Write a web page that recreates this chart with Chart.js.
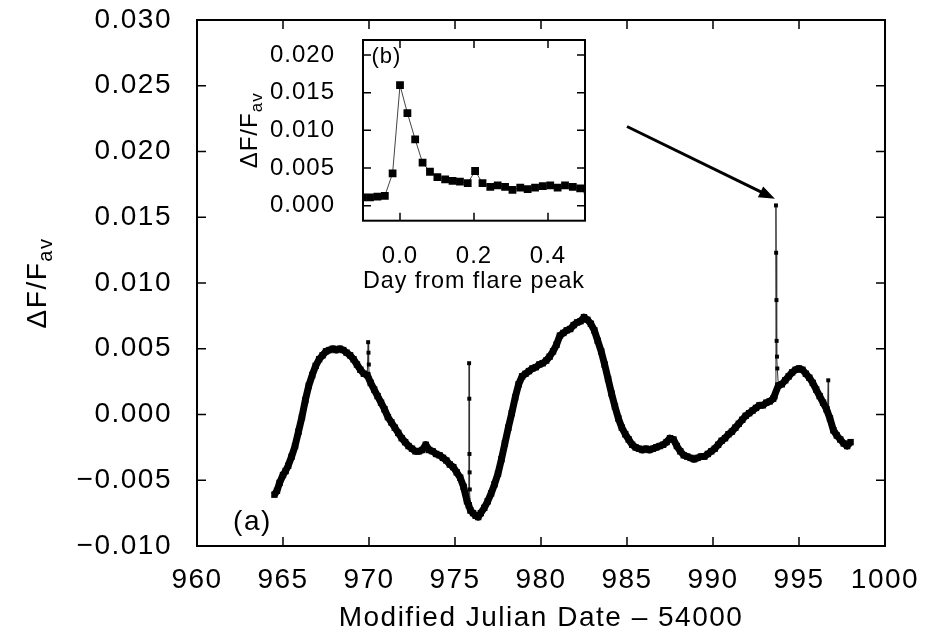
<!DOCTYPE html>
<html lang="en">
<head>
<meta charset="UTF-8">
<title>Light curve with flare</title>
<script src="https://cdn.jsdelivr.net/npm/chart.js@4.4.1/dist/chart.umd.min.js"></script>
<style>
  html, body { margin: 0; padding: 0; background: #fff; }
  #wrap { position: relative; width: 925px; height: 640px; }
  #main { position: absolute; left: 0; top: 0; }
  #inset { position: absolute; left: 230px; top: 30px; }
</style>
</head>
<body>
<div id="wrap">
  <canvas id="main" width="925" height="640"></canvas>
  <canvas id="inset" width="370" height="275"></canvas>
</div>
<script>
// panel (a): MJD - 54000 and dF/F_av, flux in units of 0.001
const mjd = [
  964.5, 964.65, 964.8, 965.0, 965.15, 965.3, 965.5, 965.7, 965.9, 966.1,
  966.3, 966.5, 966.7, 966.9, 967.1, 967.3, 967.5, 967.7, 967.9, 968.1,
  968.3, 968.5, 968.7, 968.9, 969.1, 969.3, 969.5, 969.7, 969.9, 970.1,
  970.3, 970.5, 970.7, 970.9, 971.1, 971.3, 971.5, 971.7, 971.9, 972.1,
  972.3, 972.5, 972.7, 972.9, 973.1, 973.3, 973.5, 973.7, 973.9, 974.1,
  974.3, 974.5, 974.7, 974.9, 975.1, 975.3, 975.5, 975.7, 975.8, 975.9,
  976.05, 976.2, 976.35, 976.5, 976.7, 976.9, 977.1, 977.3, 977.5, 977.7,
  977.9, 978.1, 978.3, 978.5, 978.7, 978.9, 979.1, 979.3, 979.5, 979.7,
  979.9, 980.1, 980.3, 980.5, 980.7, 980.9, 981.1, 981.3, 981.5, 981.7,
  981.9, 982.1, 982.3, 982.5, 982.7, 982.9, 983.1, 983.3, 983.5, 983.7,
  983.9, 984.1, 984.3, 984.5, 984.7, 984.9, 985.1, 985.3, 985.5, 985.7,
  985.9, 986.1, 986.3, 986.5, 986.7, 986.9, 987.1, 987.3, 987.5, 987.7,
  987.9, 988.1, 988.3, 988.5, 988.7, 988.9, 989.1, 989.3, 989.5, 989.7,
  989.9, 990.1, 990.3, 990.5, 990.7, 990.9, 991.1, 991.3, 991.5, 991.7,
  991.9, 992.1, 992.3, 992.5, 992.7, 992.9, 993.1, 993.3, 993.5, 993.8,
  994.0, 994.2, 994.4, 994.6, 994.8, 995.0, 995.2, 995.4, 995.6, 995.8,
  996.0, 996.2, 996.4, 996.6, 996.8, 997.0, 997.2, 997.4, 997.6, 997.8,
  998.0
];
const flux = [
  -6.1, -5.8, -5.2, -4.6, -4.3, -3.9, -3.2, -2.4, -1.3, -0.2,
  1.1, 2.2, 3.0, 3.7, 4.2, 4.5, 4.8, 4.9, 5.0, 4.9,
  5.0, 4.9, 4.7, 4.5, 4.2, 3.8, 3.4, 3.1, 3.0, 2.4,
  1.9, 1.4, 0.9, 0.4, -0.2, -0.6, -1.0, -1.4, -1.8, -2.1,
  -2.4, -2.6, -2.8, -2.8, -2.7, -2.3, -2.7, -2.8, -3.0, -3.1,
  -3.3, -3.5, -3.8, -4.0, -4.4, -4.8, -5.5, -6.6, -6.9, -7.3,
  -7.5, -7.7, -7.8, -7.5, -7.1, -6.6, -6.0, -5.3, -4.5, -3.4,
  -2.2, -1.0, 0.1, 1.3, 2.3, 2.9, 3.1, 3.3, 3.5, 3.6,
  3.8, 3.9, 4.1, 4.4, 4.8, 5.3, 6.0, 6.2, 6.4, 6.5,
  6.8, 7.0, 7.1, 7.4, 7.2, 6.9, 6.4, 5.6, 4.8, 3.8,
  2.7, 1.6, 0.6, -0.3, -1.0, -1.5, -1.9, -2.3, -2.5, -2.6,
  -2.7, -2.6, -2.7, -2.6, -2.5, -2.4, -2.3, -2.1, -1.8, -1.9,
  -2.4, -2.8, -3.1, -3.2, -3.3, -3.4, -3.3, -3.2, -3.2, -3.0,
  -2.8, -2.6, -2.3, -2.0, -1.8, -1.5, -1.3, -1.0, -0.7, -0.4,
  -0.1, 0.1, 0.3, 0.5, 0.7, 0.7, 0.9, 1.0, 1.2, 2.2,
  2.3, 2.6, 2.9, 3.2, 3.4, 3.5, 3.4, 3.1, 2.8, 2.4,
  1.9, 1.4, 0.9, 0.4, -0.3, -1.2, -1.6, -1.9, -2.2, -2.4,
  -2.1
];

// short excursions (thin line), null splits them
const spikeMjd = [
  969.9, 969.95, 969.97, 969.99, 970.02, 970.02,
  975.8, 975.82, 975.83, 975.84, 975.85, 975.86, 975.9, 975.9,
  993.5, 993.64, 993.66, 993.67, 993.69, 993.7, 993.72, 993.74, 993.8, 993.8,
  996.66, 996.7, 996.72
];
const spikeFlux = [
  3.0, 5.5, 4.7, 3.8, 2.8, null,
  -6.9, 3.9, 1.2, -3.0, -4.4, -5.7, -7.3, null,
  1.2, 1.3, 15.9, 12.3, 8.7, 5.6, 4.4, 3.5, 2.2, null,
  0.3, 2.6, 0.2
];

// panel (b): days from flare peak, flux in units of 0.001
const flareDay = [
  -0.101, -0.081, -0.061, -0.041, -0.020, 0.0, 0.020, 0.041, 0.061, 0.081,
  0.101, 0.122, 0.142, 0.162, 0.183, 0.203, 0.223, 0.244, 0.264, 0.284,
  0.304, 0.325, 0.345, 0.365, 0.386, 0.406, 0.426, 0.446, 0.467, 0.487,
  0.507
];
const flareFlux = [
  1.1, 1.1, 1.2, 1.3, 4.3, 16.0, 12.3, 8.8, 5.7, 4.5,
  3.8, 3.5, 3.3, 3.2, 3.0, 4.6, 3.0, 2.5, 2.7, 2.5,
  2.1, 2.4, 2.2, 2.4, 2.6, 2.7, 2.4, 2.7, 2.5, 2.3,
  2.1
];

const mainXTicks = [960, 965, 970, 975, 980, 985, 990, 995, 1000];
const mainYTicks = [-0.010, -0.005, 0.000, 0.005, 0.010, 0.015, 0.020, 0.025, 0.030];
const insetXTicks = [0.0, 0.2, 0.4];
const insetYTicks = [0.000, 0.005, 0.010, 0.015, 0.020];

const FONT = "'Liberation Sans', Arial, sans-serif";

const fmt = d => v => (Math.abs(v) < 1e-9 ? 0 : v).toFixed(d).replace('-', '\u2212');
const pts = (xs, ys) => xs.map((x, i) => ({ x, y: ys[i] === null ? null : ys[i] / 1000 }));

// frame, inward mirror ticks, y title with subscript, panel tag, arrow
const framePlugin = {
  id: 'frame',
  beforeUpdate(chart, args, o) {
    // the reference lettering is set a bit wide
    chart.ctx.letterSpacing = o.spacing || '0px';
  },
  afterDraw(chart, args, o) {
    const { ctx, chartArea: a, scales: { x, y } } = chart;
    ctx.save();
    ctx.strokeStyle = '#000';
    ctx.lineWidth = o.tickWidth;
    ctx.beginPath();
    x.ticks.forEach(t => {
      const px = x.getPixelForValue(t.value);
      ctx.moveTo(px, a.bottom); ctx.lineTo(px, a.bottom - o.tick);
      ctx.moveTo(px, a.top); ctx.lineTo(px, a.top + o.tick);
    });
    y.ticks.forEach(t => {
      const py = y.getPixelForValue(t.value);
      ctx.moveTo(a.left, py); ctx.lineTo(a.left + o.tick, py);
      ctx.moveTo(a.right, py); ctx.lineTo(a.right - o.tick, py);
    });
    ctx.stroke();
    ctx.lineWidth = o.frameWidth;
    ctx.strokeRect(a.left, a.top, a.width, a.height);

    // y title: ΔF/F with subscript "av"
    ctx.fillStyle = '#000';
    ctx.textBaseline = 'middle';
    ctx.textAlign = 'left';
    const big = `${o.titleSize}px ${FONT}`;
    const small = `${Math.round(o.titleSize * 0.72)}px ${FONT}`;
    ctx.font = big;
    const w1 = ctx.measureText('\u0394F/F').width;
    ctx.font = small;
    const w2 = ctx.measureText('av').width;
    ctx.translate(o.titleX, (a.top + a.bottom) / 2);
    ctx.rotate(-Math.PI / 2);
    ctx.font = big;
    ctx.fillText('\u0394F/F', -(w1 + w2) / 2, 0);
    ctx.font = small;
    ctx.fillText('av', -(w1 + w2) / 2 + w1, o.titleSize * 0.3);
    ctx.setTransform(1, 0, 0, 1, 0, 0);

    // panel tag
    ctx.font = `${o.tagSize}px ${FONT}`;
    ctx.fillText(o.tag.text, x.getPixelForValue(o.tag.x), y.getPixelForValue(o.tag.y));

    // arrow pointing at the flare
    if (o.arrow) {
      const x0 = x.getPixelForValue(o.arrow.from[0]), y0 = y.getPixelForValue(o.arrow.from[1]);
      const x1 = x.getPixelForValue(o.arrow.to[0]), y1 = y.getPixelForValue(o.arrow.to[1]);
      const ang = Math.atan2(y1 - y0, x1 - x0);
      const hl = 16, hw = 6;
      ctx.lineWidth = 3;
      ctx.beginPath();
      ctx.moveTo(x0, y0);
      ctx.lineTo(x1 - hl * 0.8 * Math.cos(ang), y1 - hl * 0.8 * Math.sin(ang));
      ctx.stroke();
      ctx.beginPath();
      ctx.moveTo(x1, y1);
      ctx.lineTo(x1 - hl * Math.cos(ang) + hw * Math.sin(ang), y1 - hl * Math.sin(ang) - hw * Math.cos(ang));
      ctx.lineTo(x1 - hl * Math.cos(ang) - hw * Math.sin(ang), y1 - hl * Math.sin(ang) + hw * Math.cos(ang));
      ctx.closePath();
      ctx.fill();
    }
    ctx.restore();
  }
};

function axis({ min, max, ticks, digits, size, pad, fit, title }) {
  const s = {
    type: 'linear', min, max,
    grid: { display: false },
    border: { display: false },
    afterBuildTicks: sc => { sc.ticks = ticks.map(v => ({ value: v })); },
    afterFit: sc => {
      // keep the plot box where layout.padding puts it
      sc.paddingTop = sc.paddingBottom = sc.paddingLeft = sc.paddingRight = 0;
      fit(sc);
    },
    ticks: { padding: pad, color: '#000', maxRotation: 0, font: { family: FONT, size }, callback: fmt(digits) }
  };
  if (title) s.title = { display: true, text: title.text, color: '#000', font: { family: FONT, size }, padding: { top: 0, bottom: title.pb } };
  return s;
}

Chart.register(framePlugin);

new Chart(document.getElementById('main'), {
  type: 'line',
  data: {
    datasets: [
      {
        data: pts(mjd, flux),
        borderColor: '#000', backgroundColor: '#000',
        borderWidth: 7, borderJoinStyle: 'round', tension: 0,
        pointStyle: 'rect', pointRadius: 4.5, pointBorderWidth: 0
      },
      {
        data: pts(spikeMjd, spikeFlux),
        borderColor: '#333', backgroundColor: '#000',
        borderWidth: 1, tension: 0, spanGaps: false,
        pointStyle: 'rect', pointRadius: 2.8, pointBorderWidth: 0
      }
    ]
  },
  options: {
    responsive: false, animation: false, devicePixelRatio: 1,
    layout: { padding: { top: 20, right: 40, left: 0, bottom: 0 } },
    plugins: {
      legend: { display: false }, tooltip: { enabled: false },
      frame: {
        spacing: '1.5px',
        tick: 9, tickWidth: 1.5, frameWidth: 2, titleX: 38, titleSize: 28, tagSize: 28,
        tag: { text: '(a)', x: 962.1, y: -0.0082 },
        arrow: { from: [985.0, 0.0219], to: [993.6, 0.0164] }
      }
    },
    scales: {
      x: axis({ min: 960, max: 1000, ticks: mainXTicks, digits: 0, size: 28, pad: 9,
        fit: s => { s.height = 94; }, title: { text: 'Modified Julian Date \u2013 54000', pb: 5 } }),
      y: axis({ min: -0.010, max: 0.030, ticks: mainYTicks, digits: 3, size: 28, pad: 17,
        fit: s => { s.width = 197; } })
    }
  }
});

new Chart(document.getElementById('inset'), {
  type: 'line',
  data: {
    datasets: [{
      data: pts(flareDay, flareFlux),
      borderColor: '#444', backgroundColor: '#000',
      borderWidth: 1, tension: 0,
      pointStyle: 'rect', pointRadius: 5.5, pointBorderWidth: 0
    }]
  },
  options: {
    responsive: false, animation: false, devicePixelRatio: 1,
    layout: { padding: { top: 10, right: 15, left: 0, bottom: 0 } },
    plugins: {
      legend: { display: false }, tooltip: { enabled: false },
      frame: {
        spacing: '1px',
        tick: 8, tickWidth: 1.5, frameWidth: 2, titleX: 20, titleSize: 24, tagSize: 22,
        tag: { text: '(b)', x: -0.077, y: 0.0197 }
      }
    },
    scales: {
      x: axis({ min: -0.1, max: 0.5, ticks: insetXTicks, digits: 1, size: 24, pad: 13,
        fit: s => { s.height = 84.3; }, title: { text: 'Day from flare peak', pb: 9 } }),
      y: axis({ min: -0.002, max: 0.022, ticks: insetYTicks, digits: 3, size: 24, pad: 20,
        fit: s => { s.width = 133; } })
    }
  }
});
</script>
</body>
</html>
